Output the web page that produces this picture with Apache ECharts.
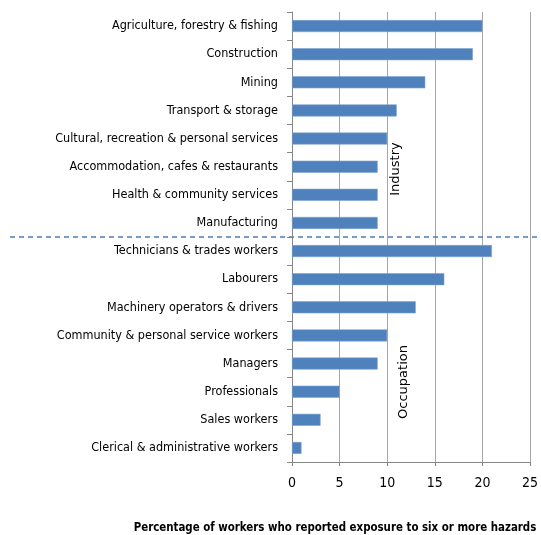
<!DOCTYPE html>
<html>
<head>
<meta charset="utf-8">
<script src="https://cdn.jsdelivr.net/npm/echarts@6/dist/echarts.min.js"></script>
<style>html,body{margin:0;padding:0;background:#fff;}#c{width:541px;height:535px;}</style>
</head>
<body>
<div id="c"></div>
<script>
var categories = [
  "Agriculture, forestry & fishing",
  "Construction",
  "Mining",
  "Transport & storage",
  "Cultural, recreation & personal services",
  "Accommodation, cafes & restaurants",
  "Health & community services",
  "Manufacturing",
  "Technicians & trades workers",
  "Labourers",
  "Machinery operators & drivers",
  "Community & personal service workers",
  "Managers",
  "Professionals",
  "Sales workers",
  "Clerical & administrative workers"
];
var values = [20, 19, 14, 11, 10, 9, 9, 9, 21, 16, 13, 10, 9, 5, 3, 1];
var xTicks = [0, 5, 10, 15, 20, 25];
var axisTitle = "Percentage of workers who reported exposure to six or more hazards";
var groupLabels = ["Industry", "Occupation"];

var FONT = "'DejaVu Sans Condensed', 'Liberation Sans Narrow', sans-serif";
var chart = echarts.init(document.getElementById('c'));
chart.setOption({
  animation: false,
  backgroundColor: '#fff',
  grid: { left: 292, right: 11, top: 12, bottom: 73 },
  xAxis: {
    type: 'value', min: xTicks[0], max: xTicks[xTicks.length - 1], interval: 5,
    axisLine: { show: true, lineStyle: { color: '#868686', width: 1 } },
    axisTick: { show: true, length: 4, lineStyle: { color: '#868686' } },
    axisLabel: { margin: 14, fontSize: 14, color: '#000', fontFamily: FONT },
    splitLine: { show: true, lineStyle: { color: '#A6A6A6', width: 1 } }
  },
  yAxis: {
    type: 'category', data: categories, inverse: true,
    axisLine: { show: true, lineStyle: { color: '#868686', width: 1 } },
    axisTick: { show: true, length: 5, lineStyle: { color: '#868686' } },
    axisLabel: { margin: 14, fontSize: 12.5, color: '#000', fontFamily: FONT },
    splitLine: { show: false }
  },
  series: [{
    type: 'bar', data: values, barWidth: 12,
    itemStyle: { color: '#4F81BD', borderColor: '#7EA3D2', borderWidth: 0.6 }
  }]
});

var yTop = chart.convertToPixel({ yAxisIndex: 0 }, categories[7]);
var yBot = chart.convertToPixel({ yAxisIndex: 0 }, categories[8]);
var ySep = (yTop + yBot) / 2;
chart.setOption({
  graphic: [
    { type: 'line', shape: { x1: 10, y1: ySep, x2: 541, y2: ySep },
      style: { stroke: '#4A7EBB', lineWidth: 1.3, lineDash: [5, 4] } },
    { type: 'text', x: 396, y: 169, rotation: Math.PI / 2,
      style: { text: groupLabels[0], font: "13px 'DejaVu Sans', sans-serif", fill: '#000', align: 'center', verticalAlign: 'middle' } },
    { type: 'text', x: 404, y: 382, rotation: Math.PI / 2,
      style: { text: groupLabels[1], font: "13px 'DejaVu Sans', sans-serif", fill: '#000', align: 'center', verticalAlign: 'middle' } },
    { type: 'text', x: 335, y: 528,
      style: { text: axisTitle, font: 'bold 11.4px ' + FONT, fill: '#000', align: 'center', verticalAlign: 'middle' } }
  ]
});
</script>
</body>
</html>
